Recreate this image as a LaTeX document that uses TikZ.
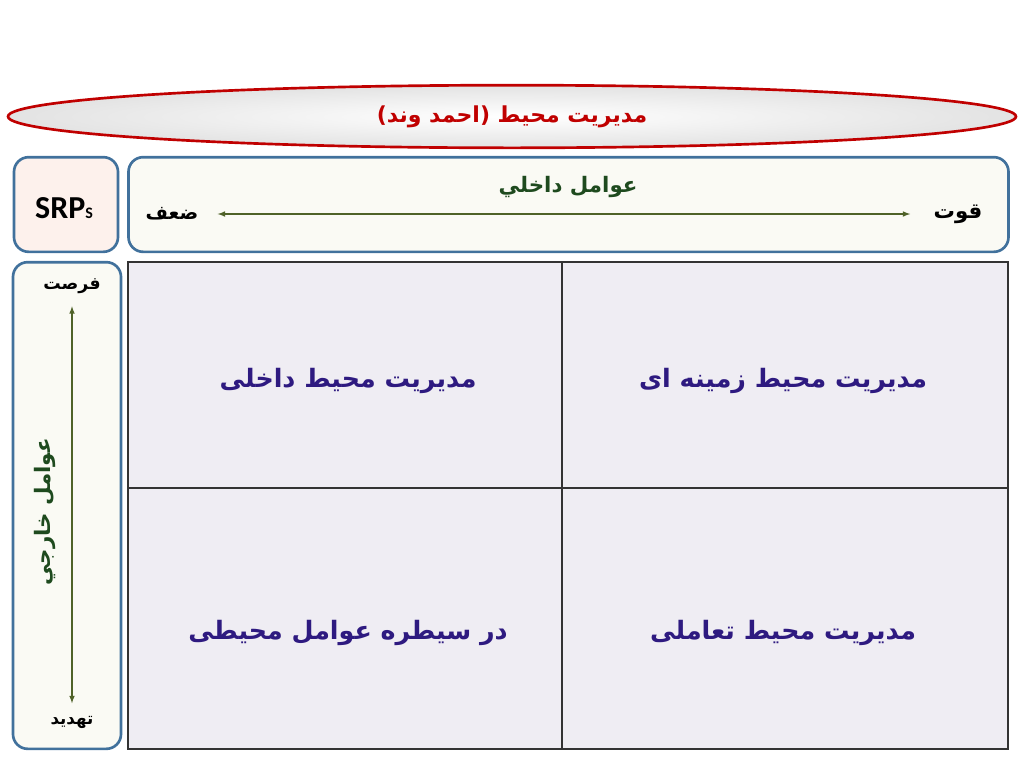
\documentclass[tikz,border=0pt]{standalone}
\usepackage{fontspec}
\usetikzlibrary{shapes.geometric}
\newfontfamily\arabicfont[Script=Arabic]{DejaVu Sans}
\newfontfamily\calibri{Carlito}
\TeXXeTstate=1
\newcommand\fa[1]{\arabicfont\beginR #1\endR}

\definecolor{boxblue}{HTML}{41719C}
\definecolor{titlered}{HTML}{C00000}
\definecolor{arrowgreen}{HTML}{4F6228}
\definecolor{labelgreen}{HTML}{1E4A1E}
\definecolor{cellblue}{HTML}{2E1A80}
\definecolor{cellfill}{HTML}{EFEDF3}
\definecolor{creamfill}{HTML}{FAFAF4}
\definecolor{pinkfill}{HTML}{FDF1EC}

\begin{document}
\begin{tikzpicture}[x=0.75pt,y=-0.75pt,
    panel/.style={draw=boxblue, line width=2pt, rounded corners=11pt, fill=creamfill},
    cell/.style={draw=black!80, line width=1.3pt, fill=cellfill, inner sep=0pt},
    celltext/.style={text=cellblue, font=\fontsize{19}{23}\selectfont\bfseries},
    axis/.style={<->, >=latex, arrowgreen, line width=0.9pt}]
    \useasboundingbox (0,0) rectangle (1024,768);

    % Title
    \node[ellipse, draw=titlered, line width=2pt, inner color=white, outer color=gray!22,
        minimum width=756pt, minimum height=47pt, text=titlered,
        font=\fontsize{16.5}{20}\selectfont\bfseries] (title) at (512,116.5) {\fa{مدیریت محیط (احمد وند)}};

    % SRPs box and internal factors
    \node[panel, fill=pinkfill, minimum width=78pt, minimum height=71pt] (srp) at (66,204.5) {};
    \node[font=\calibri\bfseries\fontsize{24}{26}\selectfont] (srptext) at (64,208) {SRP{\fontsize{12}{13}\selectfont S}};
    \node[panel, minimum width=660pt, minimum height=71pt] (internal) at (568.5,204.5) {};
    \node[text=labelgreen, font=\fontsize{16}{20}\selectfont\bfseries] (intlabel) at (568,187) {\fa{عوامل داخلي}};
    \node[font=\fontsize{14.5}{16}\selectfont\bfseries] (weak) at (172,214) {\fa{ضعف}};
    \node[font=\fontsize{16}{18}\selectfont\bfseries] (strong) at (958,214) {\fa{قوت}};
    \draw[axis, shorten <=11pt, shorten >=14pt] (weak.east) -- (strong.west);

    % External factors
    \node[panel, minimum width=81pt, minimum height=365pt] (external) at (67,505.5) {};
    \node[font=\fontsize{13}{15}\selectfont\bfseries] (chance) at (72,286) {\fa{فرصت}};
    \node[font=\fontsize{12.5}{15}\selectfont\bfseries] (threat) at (72,722) {\fa{تهدید}};
    \draw[axis, shorten <=6pt, shorten >=6pt] (chance.south) -- (threat.north);
    \node[rotate=90, text=labelgreen, font=\fontsize{16}{20}\selectfont\bfseries] (extlabel) at (45,512) {\fa{عوامل خارجي}};

    % Matrix
    \node[cell, minimum width=325.5pt, minimum height=169.5pt] (tl) at (345,375) {};
    \node[cell, minimum width=334.5pt, minimum height=169.5pt] (tr) at (785,375) {};
    \node[cell, minimum width=325.5pt, minimum height=195.75pt] (bl) at (345,618.5) {};
    \node[cell, minimum width=334.5pt, minimum height=195.75pt] (br) at (785,618.5) {};
    \node[celltext] (tltext) at (348,381) {\fa{مدیریت محیط داخلی}};
    \node[celltext] (trtext) at (783,381) {\fa{مدیریت محیط زمینه ای}};
    \node[celltext] (bltext) at (348,633) {\fa{در سیطره عوامل محیطی}};
    \node[celltext] (brtext) at (783,633) {\fa{مدیریت محیط تعاملی}};
\end{tikzpicture}
\end{document}
